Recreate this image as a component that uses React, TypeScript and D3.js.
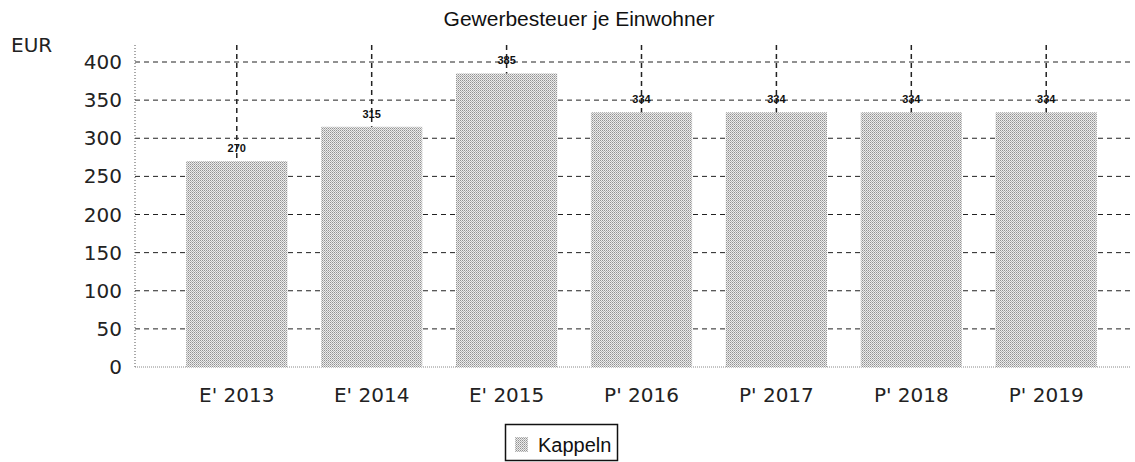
import React from "react";
import * as d3 from "d3";

const categories = ["E' 2013", "E' 2014", "E' 2015", "P' 2016", "P' 2017", "P' 2018", "P' 2019"];
const values = [270, 315, 385, 334, 334, 334, 334];
const yTicks = [0, 50, 100, 150, 200, 250, 300, 350, 400];
const title = "Gewerbesteuer je Einwohner";
const yUnit = "EUR";
const seriesName = "Kappeln";

const W = 1135;
const H = 462;

export default function App() {
  const x = d3.scaleBand<string>().domain(categories).range([170, 1113]).paddingInner(0.25).paddingOuter(0.12);
  const y = d3.scaleLinear().domain([0, 400]).range([367, 62]);
  const plotLeft = 135;
  const plotRight = 1130;
  const plotTop = 45;
  const font = "'DejaVu Sans', Verdana, sans-serif";
  const arial = "'Liberation Sans', Arial, sans-serif";
  return (
    <svg width={W} height={H} style={{ position: "absolute", left: 0, top: 0, background: "#fff" }}>
      <defs>
        <pattern id="stip" width="2" height="2" patternUnits="userSpaceOnUse">
          <rect width="2" height="2" fill="#ececec" />
          <rect x="0" y="0" width="1" height="1" fill="#929292" />
          <rect x="1" y="1" width="1" height="1" fill="#b4b4b4" />
        </pattern>
      </defs>
      <rect width={W} height={H} fill="#fff" />
      <text x={579} y={26} textAnchor="middle" fontFamily={arial} fontSize={21} fill="#111">{title}</text>
      <text x={11} y={52} fontFamily={font} fontSize={20} fill="#222">{yUnit}</text>
      {yTicks.filter(t => t > 0).map(t => (
        <line key={t} x1={plotLeft} x2={plotRight} y1={y(t)} y2={y(t)} stroke="#222" strokeWidth={1} strokeDasharray="5,4" />
      ))}
      {categories.map(c => (
        <line key={c} x1={x(c)! + x.bandwidth() / 2} x2={x(c)! + x.bandwidth() / 2} y1={plotTop} y2={y(0)} stroke="#222" strokeWidth={1.5} strokeDasharray="5,4" />
      ))}
      <line x1={plotLeft} x2={plotLeft} y1={plotTop} y2={y(0)} stroke="#555" strokeWidth={1} strokeDasharray="1,2" />
      <line x1={plotLeft} x2={plotRight} y1={y(0)} y2={y(0)} stroke="#888" strokeWidth={1} strokeDasharray="1,1" />
      {yTicks.map(t => (
        <text key={t} x={122} y={y(t) + 7} textAnchor="end" fontFamily={font} fontSize={20} fill="#222">{t}</text>
      ))}
      {categories.map((c, i) => (
        <g key={c}>
          <rect x={x(c)} y={y(values[i])} width={x.bandwidth()} height={y(0) - y(values[i])} fill="url(#stip)" />
          <text x={x(c)! + x.bandwidth() / 2} y={y(values[i]) - 9} textAnchor="middle" fontFamily={arial} fontWeight="bold" fontSize={11} fill="#111">{values[i]}</text>
          <text x={x(c)! + x.bandwidth() / 2} y={402} textAnchor="middle" fontFamily={font} fontSize={20} fill="#222">{c}</text>
        </g>
      ))}
      <rect x={505.5} y={424.5} width={112} height={36} fill="#fff" stroke="#111" strokeWidth={1.5} />
      <rect x={515} y={437} width={13} height={15} fill="url(#stip)" />
      <text x={538} y={452} fontFamily={arial} fontSize={20} fill="#111">{seriesName}</text>
    </svg>
  );
}
